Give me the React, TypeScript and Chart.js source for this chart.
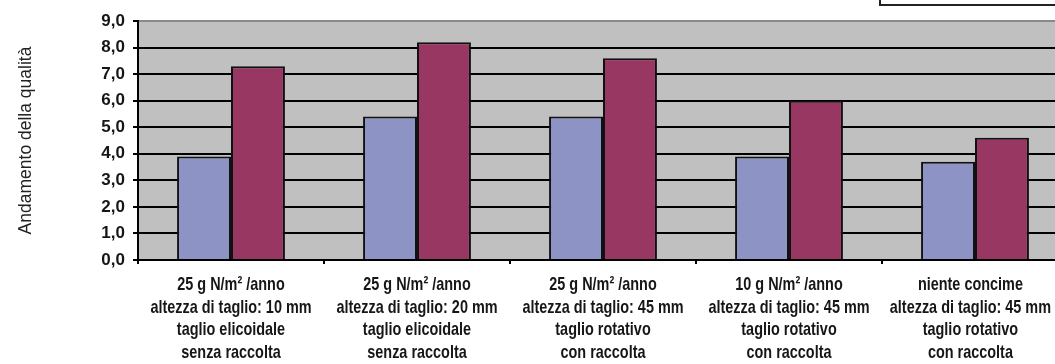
import React, { useEffect, useRef } from "react";
import { Chart, registerables } from "chart.js";

Chart.register(...registerables);

// Treatment groups (multi-line category labels)
const categories: string[][] = [
  ["25 g N/m² /anno", "altezza di taglio: 10 mm", "taglio elicoidale", "senza raccolta"],
  ["25 g N/m² /anno", "altezza di taglio: 20 mm", "taglio elicoidale", "senza raccolta"],
  ["25 g N/m² /anno", "altezza di taglio: 45 mm", "taglio rotativo", "con raccolta"],
  ["10 g N/m² /anno", "altezza di taglio: 45 mm", "taglio rotativo", "con raccolta"],
  ["niente concime", "altezza di taglio: 45 mm", "taglio rotativo", "con raccolta"],
];

// Quality scores, two series per treatment
const seriesA: number[] = [3.9, 5.4, 5.4, 3.9, 3.7];
const seriesB: number[] = [7.3, 8.2, 7.6, 6.0, 4.6];

const yTickLabels: string[] = ["0,0", "1,0", "2,0", "3,0", "4,0", "5,0", "6,0", "7,0", "8,0", "9,0"];

const CANVAS_W = 1090;
const CANVAS_H = 364;
const VISIBLE_RIGHT = 1051;
const LABEL_SCALE = 0.78;

const plotBackground = {
  id: "plotBackground",
  beforeDraw(chart: any) {
    const { ctx, chartArea } = chart;
    ctx.save();
    ctx.fillStyle = "#c0c0c0";
    ctx.fillRect(chartArea.left, chartArea.top, chartArea.right - chartArea.left, chartArea.bottom - chartArea.top);
    ctx.restore();
  },
};

// Category labels drawn in a horizontally condensed face, centred under each group
// (a block that would run past the visible edge is nudged back inside it)
const condensedXLabels = {
  id: "condensedXLabels",
  afterDraw(chart: any) {
    const xs = chart.scales.x;
    const ctx = chart.ctx;
    ctx.save();
    ctx.font = "bold 18.5px 'Liberation Sans', sans-serif";
    ctx.fillStyle = "#161616";
    ctx.textAlign = "center";
    ctx.textBaseline = "middle";
    categories.forEach((lines, i) => {
      let cx = xs.getPixelForValue(i);
      const maxW = Math.max(...lines.map((l) => ctx.measureText(l).width)) * LABEL_SCALE;
      if (cx + maxW / 2 > VISIBLE_RIGHT) cx = VISIBLE_RIGHT - maxW / 2;
      lines.forEach((line, j) => {
        const y = xs.top + 25 + j * 22.7;
        ctx.save();
        ctx.translate(cx, y);
        ctx.scale(LABEL_SCALE, 1);
        ctx.fillText(line, 0, 0);
        ctx.restore();
      });
    });
    ctx.restore();
  },
};

export default function App() {
  const ref = useRef<HTMLCanvasElement | null>(null);

  useEffect(() => {
    if (!ref.current) return;
    const chart = new Chart(ref.current, {
      type: "bar",
      data: {
        labels: categories.map((c) => c.join(" ")),
        datasets: [
          {
            data: seriesA,
            backgroundColor: "#8e93c6",
            borderColor: "#111",
            borderWidth: 2,
            categoryPercentage: 0.58,
            barPercentage: 1.0,
          },
          {
            data: seriesB,
            backgroundColor: "#983762",
            borderColor: "#111",
            borderWidth: 2,
            categoryPercentage: 0.58,
            barPercentage: 1.0,
          },
        ],
      },
      options: {
        responsive: false,
        animation: false,
        devicePixelRatio: 1,
        layout: { padding: { top: 21, left: 0, right: 22, bottom: 0 } },
        plugins: {
          legend: { display: false },
          tooltip: { enabled: false },
        },
        scales: {
          x: {
            offset: true,
            grid: {
              offset: true,
              drawOnChartArea: false,
              drawTicks: true,
              tickLength: 4,
              color: "#000",
              lineWidth: 2,
            },
            border: { color: "#000", width: 2 },
            ticks: { display: false },
            afterFit: (s: any) => {
              s.height = 104;
            },
          },
          y: {
            min: 0,
            max: 9,
            ticks: {
              stepSize: 1,
              color: "#161616",
              padding: 8,
              font: { family: "'Liberation Sans', sans-serif", size: 17, weight: "bold" },
              callback: (_v: any, i: number) => yTickLabels[i],
            },
            grid: {
              color: (c: any) => (c.tick && c.tick.value === 9 ? "#8a8a8a" : "#000"),
              tickColor: "#000",
              lineWidth: 2,
              tickLength: 5,
            },
            border: { color: "#000", width: 2 },
            title: {
              display: true,
              text: "Andamento della qualità",
              color: "#222",
              font: { family: "'Liberation Sans', sans-serif", size: 17.5 },
              padding: { top: 16, bottom: 0 },
            },
            afterFit: (s: any) => {
              s.width = 138;
            },
          },
        },
      },
      plugins: [plotBackground, condensedXLabels],
    });
    return () => chart.destroy();
  }, []);

  return (
    <div
      style={{
        position: "fixed",
        left: 0,
        top: 0,
        width: 1055,
        height: 364,
        overflow: "hidden",
        background: "#fff",
      }}
    >
      <canvas ref={ref} width={CANVAS_W} height={CANVAS_H} style={{ width: CANVAS_W, height: CANVAS_H, display: "block" }} />
      <div
        style={{
          position: "absolute",
          left: 879,
          top: -20,
          width: 200,
          height: 22,
          border: "2px solid #222",
          background: "#fff",
        }}
      />
    </div>
  );
}
